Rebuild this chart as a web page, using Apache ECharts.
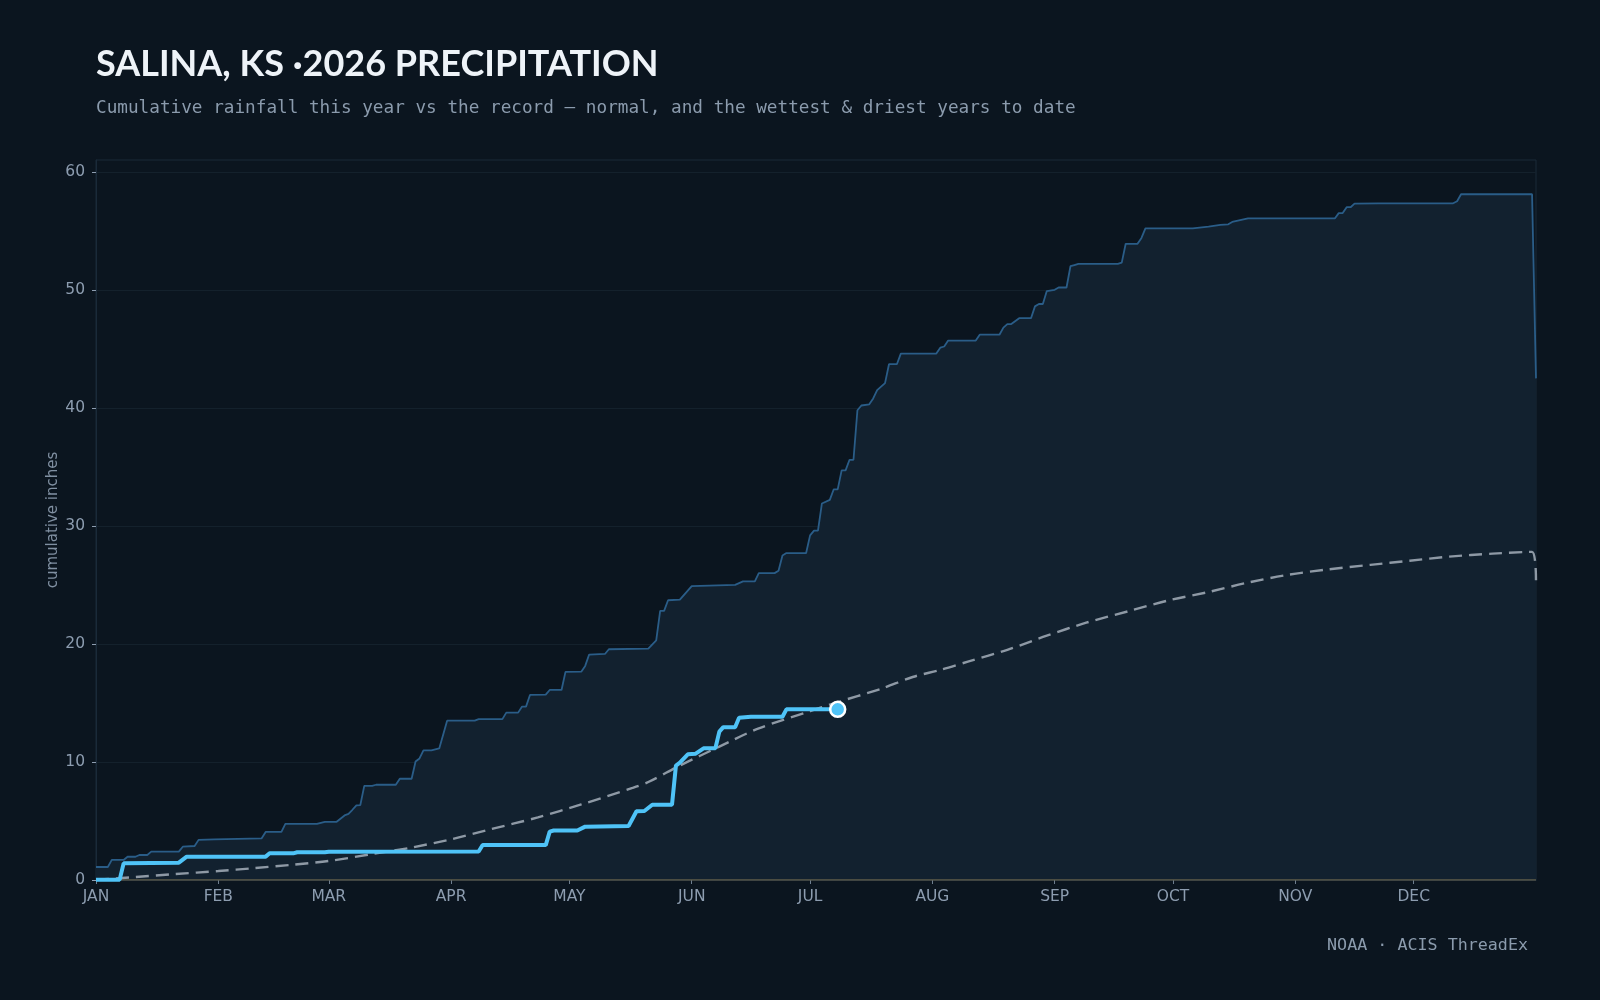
<!DOCTYPE html>
<html>
<head>
<meta charset="utf-8">
<script src="https://cdn.jsdelivr.net/npm/echarts@6/dist/echarts.min.js"></script>
<style>
html,body{margin:0;padding:0;background:#0b151f;}
#chart{width:1600px;height:1000px;}
</style>
</head>
<body>
<div id="chart"></div>
<script>
// ---- data (day of year, cumulative inches) ----
const monthStarts = [0, 31, 59, 90, 120, 151, 181, 212, 243, 273, 304, 334];
const monthLabels = ['JAN','FEB','MAR','APR','MAY','JUN','JUL','AUG','SEP','OCT','NOV','DEC'];
const yTicks = [0, 10, 20, 30, 40, 50, 60];

const wettest = [
  [0,1.1],[3,1.1],[4,1.7],[7,1.7],[8,1.97],[10,1.97],[11,2.12],[13,2.12],[14,2.4],[21,2.4],
  [22,2.82],[25,2.88],[26,3.4],[30,3.45],[42,3.53],[43,4.07],[47,4.07],[48,4.75],[56,4.75],
  [58,4.93],[61,4.93],[63,5.47],[64,5.6],[65,5.95],[66,6.32],[67,6.35],[68,7.97],[70,7.97],
  [71,8.07],[76,8.07],[77,8.58],[80,8.58],[81,10.04],[82,10.3],[83,10.98],[85,10.98],[87,11.15],
  [89,13.5],[96,13.5],[97,13.63],[103,13.63],[104,14.18],[107,14.18],[108,14.69],[109,14.69],
  [110,15.68],[114,15.7],[115,16.1],[118,16.1],[119,17.63],[123,17.65],[124,18.14],[125,19.1],
  [129,19.15],[130,19.55],[140,19.6],[142,20.3],[143,22.8],[144,22.8],[145,23.7],[148,23.75],
  [151,24.9],[162,25.0],[164,25.3],[167,25.3],[168,26.0],[172,26.0],[173,26.2],[174,27.5],
  [175,27.7],[180,27.7],[181,29.2],[182,29.6],[183,29.6],[184,31.9],[186,32.2],[187,33.1],
  [188,33.1],[189,34.7],[190,34.7],[191,35.6],[192,35.6],[193,39.8],[194,40.2],[196,40.3],
  [197,40.8],[198,41.5],[200,42.1],[201,43.7],[203,43.7],[204,44.6],[213,44.6],[214,45.1],
  [215,45.2],[216,45.7],[223,45.7],[224,46.2],[229,46.2],[230,46.8],[231,47.1],[232,47.1],
  [234,47.6],[237,47.6],[238,48.6],[239,48.8],[240,48.8],[241,49.9],[243,50.0],[244,50.2],
  [246,50.2],[247,52.0],[248,52.1],[249,52.2],[259,52.2],[260,52.3],[261,53.9],[264,53.9],
  [265,54.4],[266,55.2],[278,55.2],[282,55.35],[285,55.5],[287,55.55],[288,55.75],[290,55.9],
  [292,56.05],[314,56.05],[315,56.5],[316,56.5],[317,57.0],[318,57.0],[319,57.3],[325,57.33],
  [344,57.33],[345,57.5],[346,58.1],[364,58.1],[365,42.5]
];

const driest = [[0,0],[365,0]];

const normal = [
  [0,0.02],[10,0.25],[20,0.5],[31,0.76],[40,1.0],[50,1.3],[59,1.61],[70,2.2],[80,2.75],
  [90,3.45],[100,4.3],[112,5.3],[123,6.4],[136,7.8],[140,8.3],[148,9.7],[158,11.3],
  [168,12.85],[181,14.3],[187,14.97],[199,16.2],[207,17.2],[214,17.8],[221,18.5],[231,19.5],
  [241,20.7],[251,21.8],[262,22.8],[272,23.7],[282,24.4],[292,25.2],[302,25.85],[312,26.3],
  [323,26.7],[333,27.05],[343,27.4],[354,27.65],[364,27.8],[365,25.4]
];

const thisYear = [
  [0,0.03],[6,0.03],[7,1.41],[21,1.47],[23,1.98],[43,1.98],[44,2.26],[50,2.26],[51,2.35],
  [58,2.35],[59,2.4],[97,2.42],[98,2.96],[114,2.96],[115,4.1],[116,4.19],[122,4.19],[124,4.52],
  [135,4.58],[137,5.82],[139,5.85],[141,6.38],[146,6.38],[147,9.7],[148,9.94],[150,10.65],
  [152,10.7],[154,11.16],[157,11.16],[158,12.57],[159,12.95],[162,12.95],[163,13.75],[166,13.83],
  [174,13.83],[175,14.46],[188,14.46]
];

const chart = echarts.init(document.getElementById('chart'), null, {renderer: 'canvas'});
const labelColor = '#8d9db0';

chart.setOption({
  backgroundColor: '#0b151f',
  animation: false,
  grid: {left: 96, right: 64, top: 160, bottom: 120, show: true, borderColor: '#1a2a39', borderWidth: 1, backgroundColor: 'transparent'},
  xAxis: {
    type: 'value', min: 0, max: 365,
    axisLine: {show: true, lineStyle: {color: '#1a2a39'}},
    axisTick: {show: true, length: 4, customValues: monthStarts, lineStyle: {color: '#6f7f90'}},
    axisLabel: {
      customValues: monthStarts, margin: 9, color: labelColor,
      fontFamily: 'DejaVu Sans', fontSize: 15.5,
      formatter: v => monthLabels[monthStarts.indexOf(v)] || ''
    },
    splitLine: {show: false}
  },
  yAxis: {
    type: 'value', min: 0, max: 61, interval: 10,
    axisLine: {show: true, lineStyle: {color: '#1a2a39'}},
    axisTick: {show: true, length: 4, customValues: yTicks, lineStyle: {color: '#8d9db0'}},
    axisLabel: {customValues: yTicks, margin: 11, color: labelColor, fontFamily: 'DejaVu Sans', fontSize: 15.5},
    splitLine: {show: true, lineStyle: {color: '#14212c', width: 1}}
  },
  series: [
    {
      name: 'wettest', type: 'line', data: wettest, symbol: 'none', z: 2,
      lineStyle: {color: '#2a5d88', width: 1.8},
      areaStyle: {color: '#12212f', opacity: 1, origin: 0}
    },
    {
      name: 'driest', type: 'line', data: driest, symbol: 'none', z: 3,
      lineStyle: {color: '#5f5c4a', width: 1.5}
    },
    {
      name: 'normal', type: 'line', data: normal, symbol: 'none', z: 4, smooth: 0.3,
      lineStyle: {color: '#8e99a5', width: 2.4, type: [13, 7]}
    },
    {
      name: 'this year', type: 'line', data: thisYear, symbol: 'none', z: 5,
      lineStyle: {color: '#4fc3f7', width: 4}
    },
    {
      name: 'latest', type: 'scatter', data: [thisYear[thisYear.length - 1]], z: 6,
      symbol: 'circle', symbolSize: 15,
      itemStyle: {color: '#4fc3f7', opacity: 1, borderColor: '#ffffff', borderWidth: 2.5}
    }
  ],
  graphic: [
    {type: 'text', left: 96, top: 46, style: {text: 'SALINA, KS ·2026 PRECIPITATION', font: 'bold 36px Lato', fill: '#eef3f8'}},
    {type: 'text', left: 96, top: 99, style: {text: 'Cumulative rainfall this year vs the record — normal, and the wettest & driest years to date', font: '17.7px "DejaVu Sans Mono"', fill: '#8b9bad'}},
    {type: 'text', right: 72, top: 937, style: {text: 'NOAA · ACIS ThreadEx', font: '16.7px "DejaVu Sans Mono"', fill: '#8b9bad'}},
    {type: 'text', x: 53, y: 520, rotation: Math.PI / 2, style: {text: 'cumulative inches', font: '15px "DejaVu Sans"', fill: '#8090a2', textAlign: 'center', textVerticalAlign: 'middle'}}
  ]
});
</script>
</body>
</html>
